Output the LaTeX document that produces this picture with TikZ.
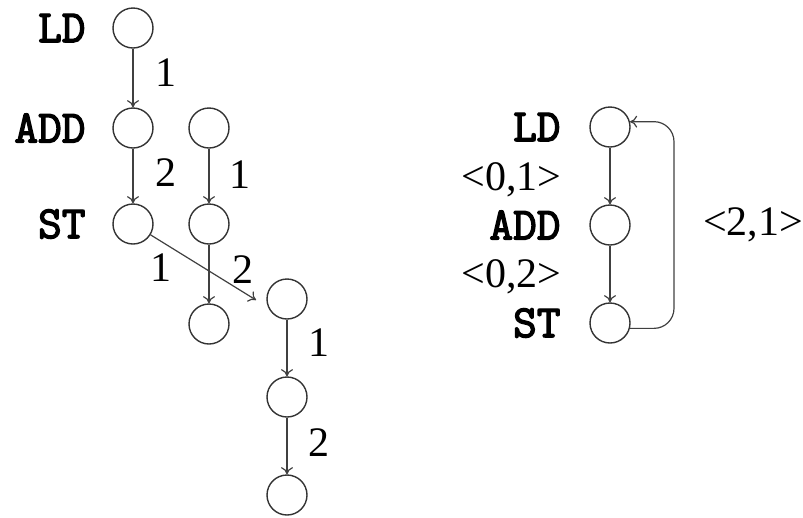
\documentclass[tikz,border=0pt]{standalone}
\usepackage{fontspec}
\setmainfont{Liberation Serif}
\setmonofont{Latin Modern Mono}[AutoFakeBold=3]
\usepackage{tikz}
\usetikzlibrary{arrows.meta,positioning}
\tikzset{
    vertex/.style={circle, draw, black!80, minimum size=10pt, inner sep=0pt, line width=0.35pt},
    edge/.style={draw, black!75, line width=0.3pt, -{To[length=1.8pt,width=3pt]}},
    op/.style={font=\fontsize{11.5}{13}\selectfont\ttfamily\bfseries, inner sep=0pt},
    num/.style={midway, text=black, font=\fontsize{10.5}{12}\selectfont, inner sep=0pt},
    pair/.style={font=\fontsize{10.5}{12}\selectfont, inner sep=0pt}
}

\begin{document}
\begin{tikzpicture}[x=0.25pt, y=-0.25pt]
    \useasboundingbox (0,0) rectangle (803,517);

    % Nodes (unrolled schedule)
    \node[vertex] (ld1)  at (133,28)  {};
    \node[vertex] (add1) at (133,128) {};
    \node[vertex] (st1)  at (133,224) {};
    \node[vertex] (ld2)  at (209,128) {};
    \node[vertex] (add2) at (209,224) {};
    \node[vertex] (st2)  at (209,324) {};
    \node[vertex] (ld3)  at (287,299) {};
    \node[vertex] (add3) at (287,397) {};
    \node[vertex] (st3)  at (287,495) {};
    \coordinate (tip) at (256,300);

    \node[op, left=6.5pt of ld1]  {LD};
    \node[op, left=6.5pt of add1] {ADD};
    \node[op, left=6.5pt of st1]  {ST};

    % edges
    \draw[edge] (ld1)  -- node[num, xshift=8.25pt, yshift=1.25pt] {1} (add1);
    \draw[edge] (add1) -- node[num, xshift=8.25pt, yshift=0.75pt] {2} (st1);
    \draw[edge] (ld2)  -- node[num, xshift=7.75pt, yshift=0.25pt] {1} (add2);
    \draw[edge] (add2) -- node[num, xshift=8.5pt, yshift=1pt] {2} (st2);
    \draw[edge] (st1)  -- node[num, xshift=-10.5pt] {1} (tip);
    \draw[edge] (ld3)  -- node[num, xshift=8pt, yshift=1.25pt] {1} (add3);
    \draw[edge] (add3) -- node[num, xshift=8pt, yshift=0.75pt] {2} (st3);

    % Nodes (loop body)
    \node[vertex] (rld)  at (610,127) {};
    \node[vertex] (radd) at (610,225) {};
    \node[vertex] (rst)  at (610,323) {};

    \node[op, left=7pt of rld]  {LD};
    \node[op, left=7pt of radd] {ADD};
    \node[op, left=7pt of rst]  {ST};
    \node[pair, anchor=east] at (562,180) {<0,1>};
    \node[pair, anchor=east] at (562,277) {<0,2>};
    \node[pair] at (753,225) {<2,1>};

    % edges
    \draw[edge] (rld)  -- (radd);
    \draw[edge] (radd) -- (rst);
    \draw[edge, rounded corners=5pt] (rst.-15) -- ++(44,0) |- (rld.15);
\end{tikzpicture}
\end{document}
